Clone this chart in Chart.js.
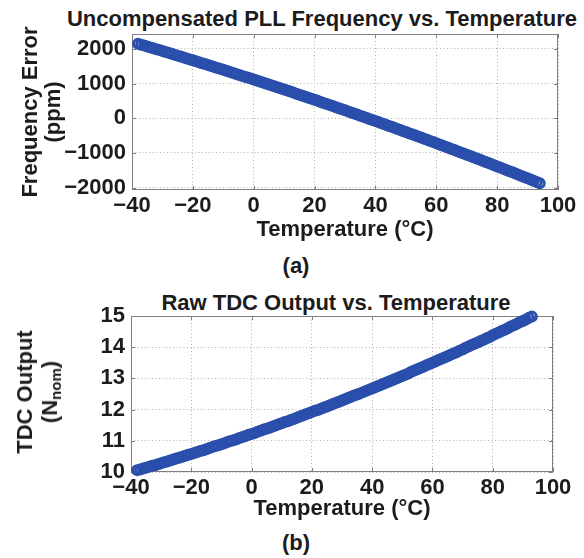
<!DOCTYPE html>
<html><head><meta charset="utf-8">
<script src="https://cdn.jsdelivr.net/npm/chart.js@4.4.0/dist/chart.umd.min.js"></script>
<style>
html,body{margin:0;padding:0;background:#fff;overflow:hidden;}
body{width:584px;height:558px;position:relative;font-family:"Liberation Sans",Arial,sans-serif;font-weight:bold;color:#1c1c1c;}
.box{position:absolute;left:0;width:584px;}
.t{position:absolute;white-space:nowrap;font-size:22px;line-height:1;transform:translate(-50%,-50%);}
.yt{position:absolute;white-space:nowrap;font-size:22px;line-height:25px;text-align:center;transform:translate(-50%,-50%) rotate(-90deg);}
.yt sub{font-size:15px;line-height:0;vertical-align:-4px;}
</style></head><body>
<div class="t" style="left:322px;top:19px">Uncompensated PLL Frequency vs. Temperature</div>
<div class="box" style="top:0;height:245px"><canvas id="c1"></canvas></div>
<div class="t" style="left:296px;top:266px">(a)</div>
<div class="t" style="left:336px;top:303px">Raw TDC Output vs. Temperature</div>
<div class="box" style="top:282px;height:242px"><canvas id="c2"></canvas></div>
<div class="yt" style="left:37px;top:392px">TDC Output<br>(N<sub>nom</sub>)</div>
<div class="t" style="left:296px;top:543px">(b)</div>
<script>
// ---- data (a) ----
const tempA = [-38,-37,-36,-35,-34,-33,-32,-31,-30,-29,-28,-27,-26,-25,-24,-23,-22,-21,-20,-19,-18,-17,-16,-15,-14,-13,-12,-11,-10,-9,-8,-7,-6,-5,-4,-3,-2,-1,0,1,2,3,4,5,6,7,8,9,10,11,12,13,14,15,16,17,18,19,20,21,22,23,24,25,26,27,28,29,30,31,32,33,34,35,36,37,38,39,40,41,42,43,44,45,46,47,48,49,50,51,52,53,54,55,56,57,58,59,60,61,62,63,64,65,66,67,68,69,70,71,72,73,74,75,76,77,78,79,80,81,82,83,84,85,86,87,88,89,90,91,92,93,94];
const freqErr = [2147,2122,2096,2070,2044,2017,1991,1965,1939,1912,1886,1859,1832,1806,1779,1752,1725,1698,1671,1644,1617,1589,1562,1535,1507,1480,1452,1424,1397,1369,1341,1313,1285,1257,1228,1200,1172,1143,1115,1086,1058,1029,1000,972,943,914,885,856,826,797,768,739,709,680,650,620,591,561,531,501,471,441,411,381,350,320,290,259,228,198,167,136,105,75,44,13,-19,-50,-81,-112,-144,-175,-207,-238,-270,-302,-334,-366,-398,-430,-462,-494,-526,-558,-591,-623,-656,-688,-721,-754,-787,-819,-852,-885,-919,-952,-985,-1018,-1052,-1085,-1118,-1152,-1186,-1219,-1253,-1287,-1321,-1355,-1389,-1423,-1457,-1492,-1526,-1560,-1595,-1629,-1664,-1699,-1734,-1768,-1803,-1838,-1873];
const yTicksA = [-2000,-1000,0,1000,2000];
// ---- data (b) ----
const tempB = [-38,-37,-36,-35,-34,-33,-32,-31,-30,-29,-28,-27,-26,-25,-24,-23,-22,-21,-20,-19,-18,-17,-16,-15,-14,-13,-12,-11,-10,-9,-8,-7,-6,-5,-4,-3,-2,-1,0,1,2,3,4,5,6,7,8,9,10,11,12,13,14,15,16,17,18,19,20,21,22,23,24,25,26,27,28,29,30,31,32,33,34,35,36,37,38,39,40,41,42,43,44,45,46,47,48,49,50,51,52,53,54,55,56,57,58,59,60,61,62,63,64,65,66,67,68,69,70,71,72,73,74,75,76,77,78,79,80,81,82,83,84,85,86,87,88,89,90,91,92,93];
const tdcOut = [10.06,10.08,10.11,10.14,10.17,10.20,10.22,10.25,10.28,10.31,10.34,10.37,10.40,10.43,10.46,10.49,10.52,10.55,10.58,10.61,10.64,10.67,10.70,10.73,10.77,10.80,10.83,10.86,10.89,10.92,10.96,10.99,11.02,11.05,11.09,11.12,11.15,11.19,11.22,11.25,11.29,11.32,11.36,11.39,11.42,11.46,11.49,11.53,11.56,11.60,11.63,11.67,11.70,11.74,11.78,11.81,11.85,11.88,11.92,11.96,11.99,12.03,12.07,12.10,12.14,12.18,12.22,12.25,12.29,12.33,12.37,12.41,12.45,12.48,12.52,12.56,12.60,12.64,12.68,12.72,12.76,12.80,12.84,12.88,12.92,12.96,13.00,13.04,13.08,13.12,13.16,13.21,13.25,13.29,13.33,13.37,13.42,13.46,13.50,13.54,13.59,13.63,13.67,13.71,13.76,13.80,13.84,13.89,13.93,13.98,14.02,14.07,14.11,14.15,14.20,14.24,14.29,14.33,14.38,14.43,14.47,14.52,14.56,14.61,14.66,14.70,14.75,14.80,14.84,14.89,14.94,14.98];
const yTicksB = [10,11,12,13,14,15];
const xTickVals = [-40,-20,0,20,40,60,80,100];

const BLUE = '#2a4eab';
const FRAME = '#7f7f7f';
const GRID = '#b0b0b0';
const TXT = '#1c1c1c';
const FONT = {family:'"Liberation Sans", Arial, sans-serif', size:22, weight:'bold'};
const fmt = v => v < 0 ? '\u2212' + Math.abs(v) : String(v);

const frame = {
  id:'frame',
  beforeDatasetsDraw(chart){
    const {ctx, chartArea:a, scales:{x, y}} = chart;
    ctx.save();
    ctx.strokeStyle = FRAME; ctx.lineWidth = 1; ctx.setLineDash([]);
    ctx.strokeRect(Math.round(a.left)+0.5, Math.round(a.top)+0.5, Math.round(a.right-a.left)-1, Math.round(a.bottom-a.top)-1);
    ctx.beginPath();
    x.ticks.forEach(t => { const p = Math.round(x.getPixelForValue(t.value))+0.5;
      ctx.moveTo(p, a.bottom); ctx.lineTo(p, a.bottom-4); ctx.moveTo(p, a.top); ctx.lineTo(p, a.top+4); });
    y.ticks.forEach(t => { const p = Math.round(y.getPixelForValue(t.value))+0.5;
      ctx.moveTo(a.left, p); ctx.lineTo(a.left+4, p); ctx.moveTo(a.right, p); ctx.lineTo(a.right-4, p); });
    ctx.stroke(); ctx.restore();
  }
};

function makeChart(id, xs, ys, yTicks, ymin, ymax, yWidth, padTop, padRight, xAxisH, yTitle){
  return new Chart(document.getElementById(id), {
    type:'scatter',
    data:{datasets:[{
      data: xs.map((x, i) => ({x:x, y:ys[i]})),
      showLine:false, pointStyle:'circle', pointRadius:4.5, pointHoverRadius:4.5,
      pointBorderWidth:3, borderColor:BLUE, backgroundColor:'rgba(0,0,0,0)', clip:false
    }]},
    options:{
      responsive:true, maintainAspectRatio:false, animation:false, events:[],
      layout:{padding:{top:padTop, right:padRight, left:0, bottom:0}},
      plugins:{legend:{display:false}, title:{display:false}, tooltip:{enabled:false}},
      scales:{
        x:{type:'linear', min:-40, max:100,
          afterBuildTicks: s => { s.ticks = xTickVals.map(v => ({value:v})); },
          afterFit: s => { s.height = xAxisH; },
          ticks:{font:FONT, color:TXT, padding:3, maxRotation:0, autoSkip:false, callback: v => fmt(v)},
          grid:{color:GRID, lineWidth:1, drawTicks:false},
          border:{display:false, dash:[1,2.5]},
          title:{display:true, text:'Temperature (°C)', font:FONT, color:TXT, padding:{top:0, bottom:2}}
        },
        y:{type:'linear', min:ymin, max:ymax,
          afterBuildTicks: s => { s.ticks = yTicks.map(v => ({value:v})); },
          afterFit: s => { s.width = yWidth; },
          ticks:{font:FONT, color:TXT, padding:6, autoSkip:false, callback: v => fmt(v)},
          grid:{color:GRID, lineWidth:1, drawTicks:false},
          border:{display:false, dash:[1,2.5]},
          title:{display: !!yTitle, text: yTitle || '', font:{...FONT, lineHeight:1.05}, color:TXT, padding:{top:19, bottom:0}}
        }
      }
    },
    plugins:[frame]
  });
}

makeChart('c1', tempA, freqErr, yTicksA, -2070, 2430, 132, 34, 26, 55, ['Frequency Error', '(ppm)']);
makeChart('c2', tempB, tdcOut, yTicksB, 10, 15, 131, 34, 31, 52, null);
</script>
</body></html>
